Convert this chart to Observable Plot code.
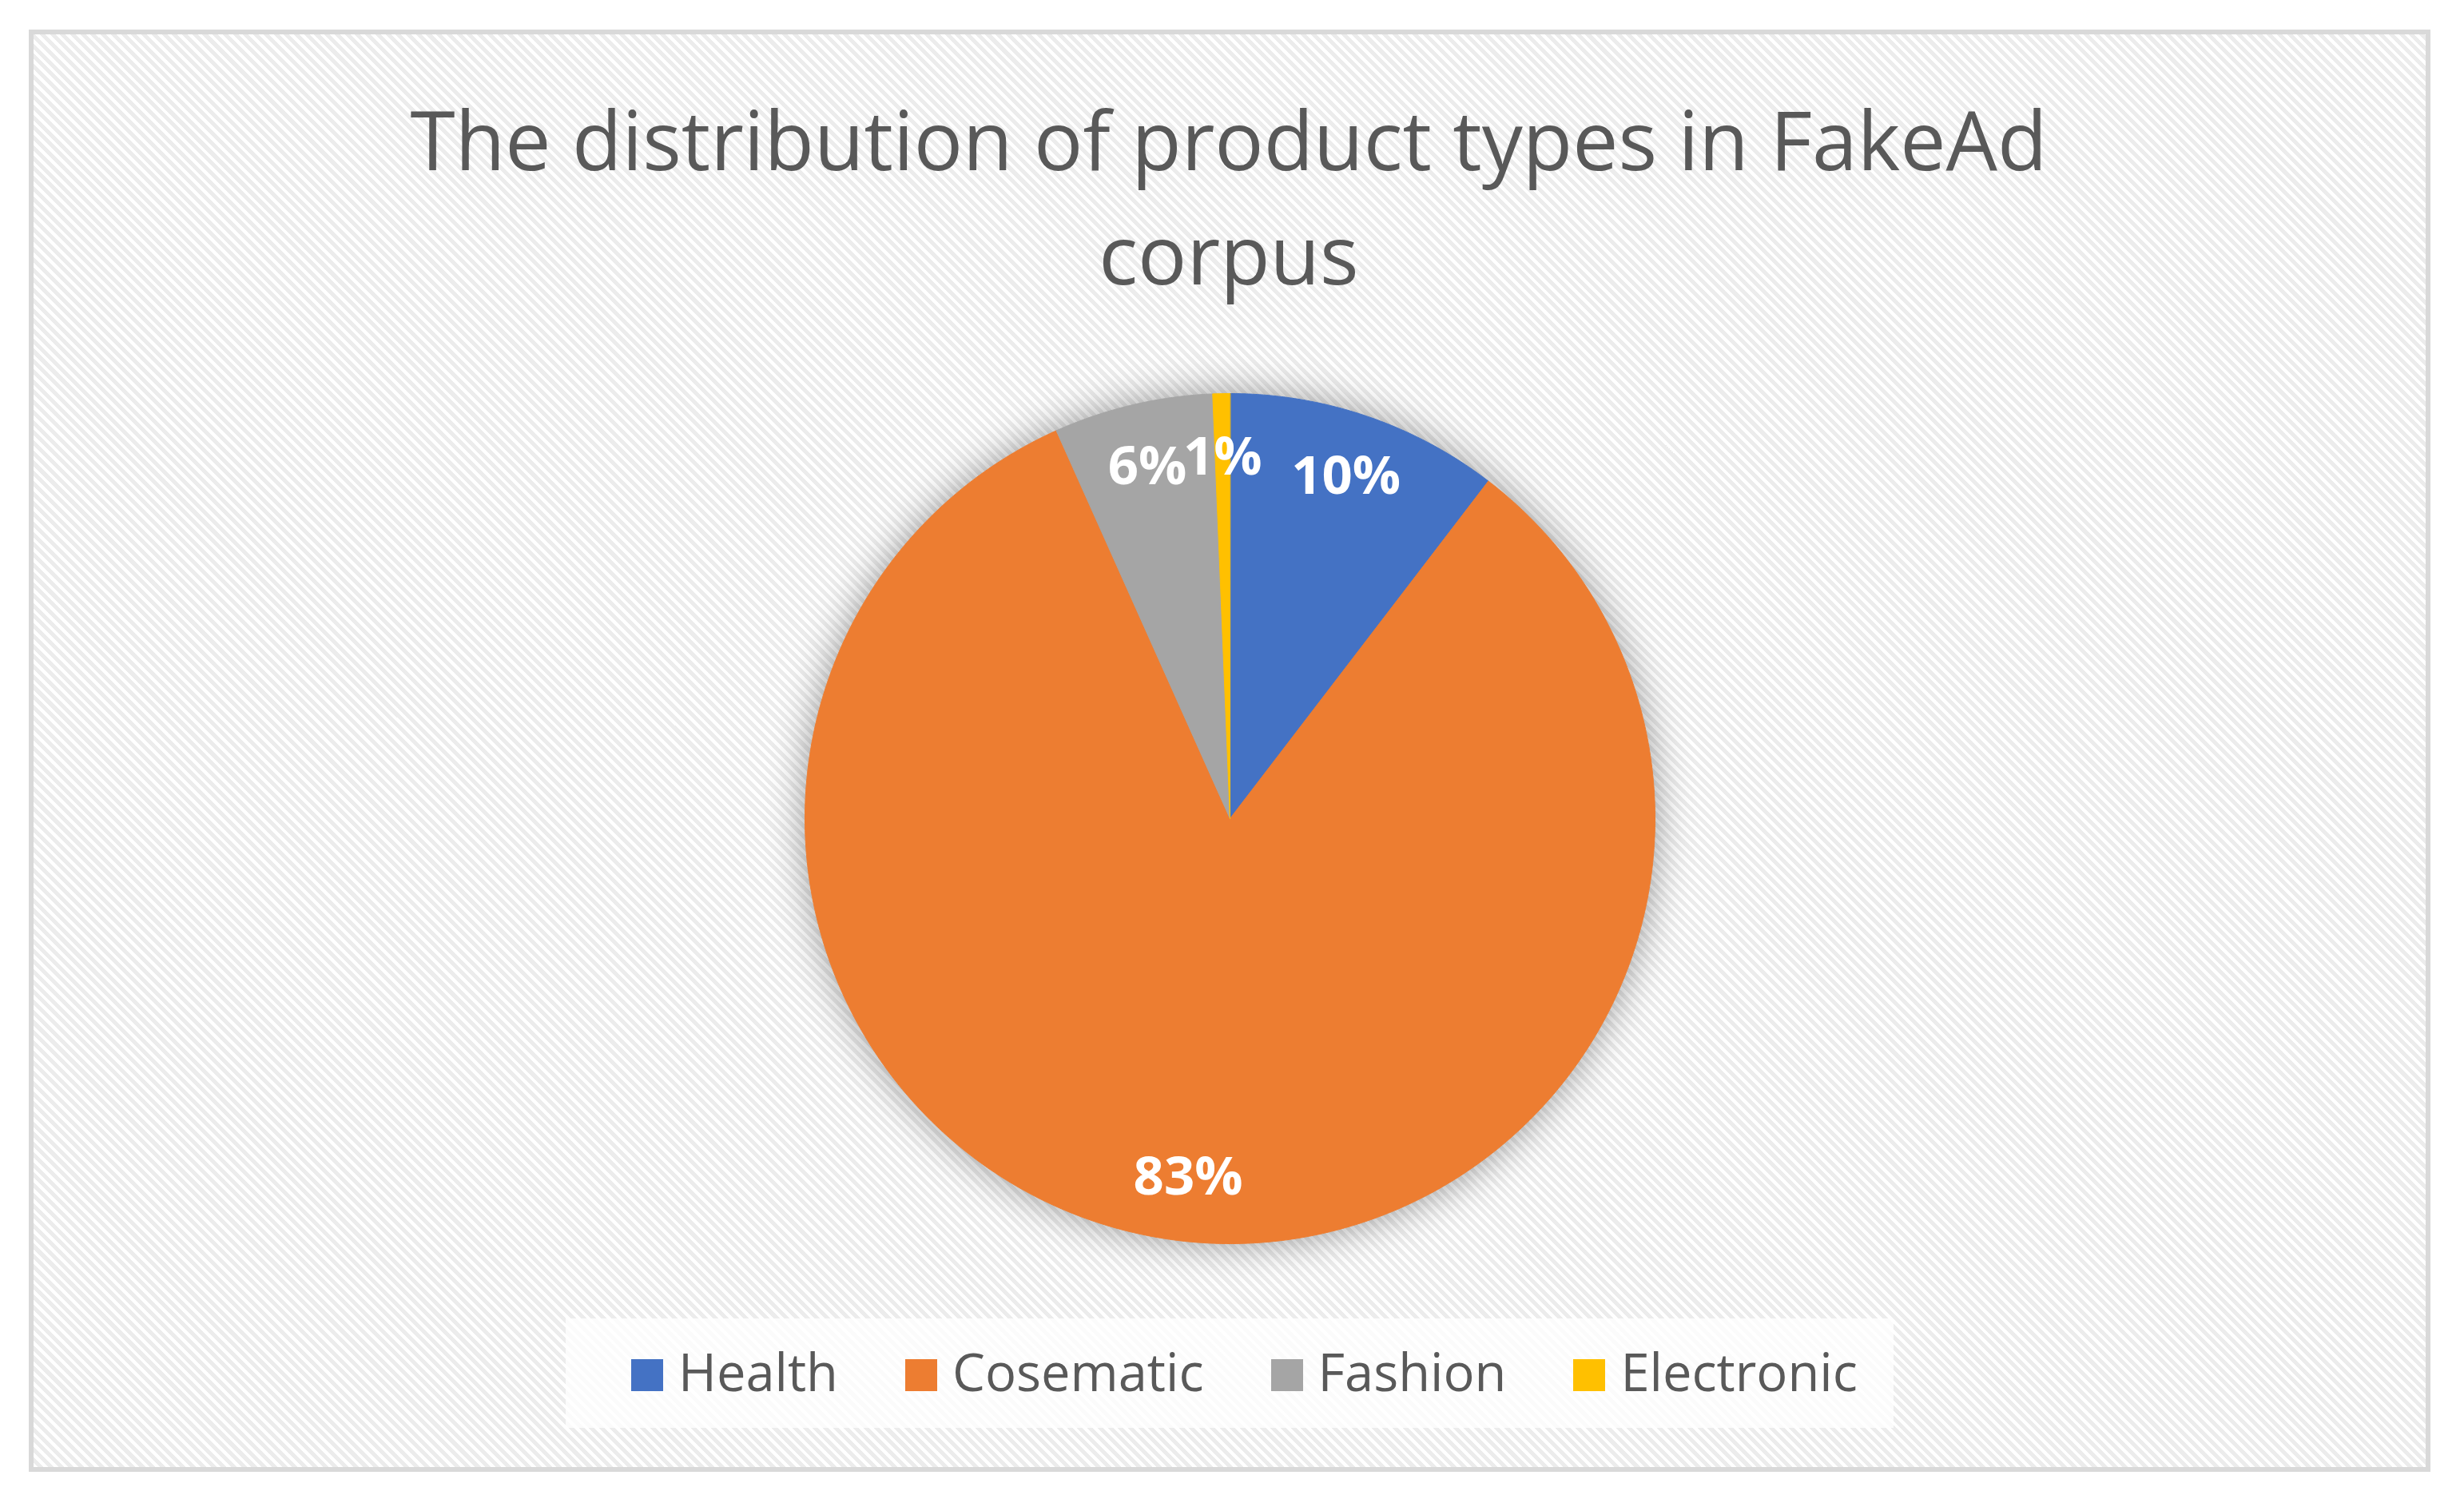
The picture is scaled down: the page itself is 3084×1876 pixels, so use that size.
<!DOCTYPE html>
<html>
<head>
<meta charset="utf-8">
<script src="https://cdn.jsdelivr.net/npm/d3@7"></script>
<script src="https://cdn.jsdelivr.net/npm/@observablehq/plot@0.6"></script>
<style>
  html, body { margin: 0; padding: 0; background: #ffffff; }
  #page { position: relative; width: 3084px; height: 1876px; background: #ffffff; overflow: hidden; }
  #frame {
    position: absolute; left: 36px; top: 37px; width: 3006px; height: 1805px;
    box-sizing: border-box; border: 6px solid #d9d9d9;
    background: repeating-linear-gradient(45deg, #ffffff 0px, #ffffff 4px, #ececec 4px, #ececec 9px);
  }
  #title {
    position: absolute; left: 0; top: 102px; width: 3076px; text-align: center;
    font-family: "Open Sans", sans-serif; font-size: 102px; line-height: 143px; color: #595959;
  }
  #legendbox {
    position: absolute; left: 708px; top: 1650px; width: 1662px; height: 137px;
    background: rgba(255,255,255,0.8);
  }
  #legend {
    position: absolute; left: 790px; top: 1676px; display: flex; gap: 84px;
    font-family: "Open Sans", sans-serif; font-size: 65px; line-height: 80px; color: #595959;
    white-space: nowrap;
  }
  #legend .sw { display: inline-block; width: 40px; height: 40px; margin-right: 19px; vertical-align: baseline; }
  #chart { position: absolute; left: 0; top: 0; }
  #chart svg { background: transparent; overflow: visible; }
  #chart g[aria-label="line"] { filter: drop-shadow(0px 0px 24px rgba(0,0,0,0.38)); }
</style>
</head>
<body>
<div id="page">
  <div id="frame"></div>
  <div id="title">The distribution of product types in FakeAd<br>corpus</div>
  <div id="legendbox"></div>
  <div id="legend"></div>
  <div id="chart"></div>
</div>
<script>
// ---- data ----
const categories = ["Health", "Cosematic", "Fashion", "Electronic"];
const values = [10.4, 82.9, 6.05, 0.65];
const colors = ["#4472C4", "#ED7D31", "#A5A5A5", "#FFC000"];

// ---- derived slice geometry (unit circle, clockwise from 12 o'clock) ----
const total = d3.sum(values);
const slices = [];
let acc = 0;
categories.forEach((c, i) => {
  const a0 = acc / total * 2 * Math.PI;
  acc += values[i];
  const a1 = acc / total * 2 * Math.PI;
  slices.push({cat: c, a0, a1, pct: Math.round(values[i] / total * 100)});
});

const outline = [];
for (const s of slices) {
  outline.push({cat: s.cat, x: 0, y: 0});
  const n = Math.max(2, Math.ceil((s.a1 - s.a0) / (Math.PI / 720)));
  for (let k = 0; k <= n; k++) {
    const a = s.a0 + (s.a1 - s.a0) * k / n;
    outline.push({cat: s.cat, x: Math.sin(a), y: Math.cos(a)});
  }
}

const labels = slices.map(s => {
  const m = (s.a0 + s.a1) / 2;
  return {cat: s.cat, x: 0.85 * Math.sin(m), y: 0.85 * Math.cos(m), text: s.pct + "%"};
});

const cx = 1539, cy = 1024, r = 532;

const plot = Plot.plot({
  width: 3084,
  height: 1876,
  margin: 0,
  style: {background: "transparent"},
  x: {domain: [-1, 1], range: [cx - r, cx + r], axis: null},
  y: {domain: [-1, 1], range: [cy + r, cy - r], axis: null},
  color: {domain: categories, range: colors},
  marks: [
    Plot.line(outline, {x: "x", y: "y", z: "cat", fill: "cat", stroke: "cat", strokeWidth: 1, curve: "linear-closed"}),
    Plot.text(labels, {x: "x", y: "y", text: "text", fill: "white", fontSize: 67, fontWeight: "bold", fontFamily: "Open Sans"})
  ]
});
document.getElementById("chart").appendChild(plot);

// ---- legend ----
const lg = document.getElementById("legend");
categories.forEach((c, i) => {
  const item = document.createElement("span");
  const sw = document.createElement("span");
  sw.className = "sw";
  sw.style.background = colors[i];
  item.appendChild(sw);
  item.appendChild(document.createTextNode(c));
  lg.appendChild(item);
});
</script>
</body>
</html>
